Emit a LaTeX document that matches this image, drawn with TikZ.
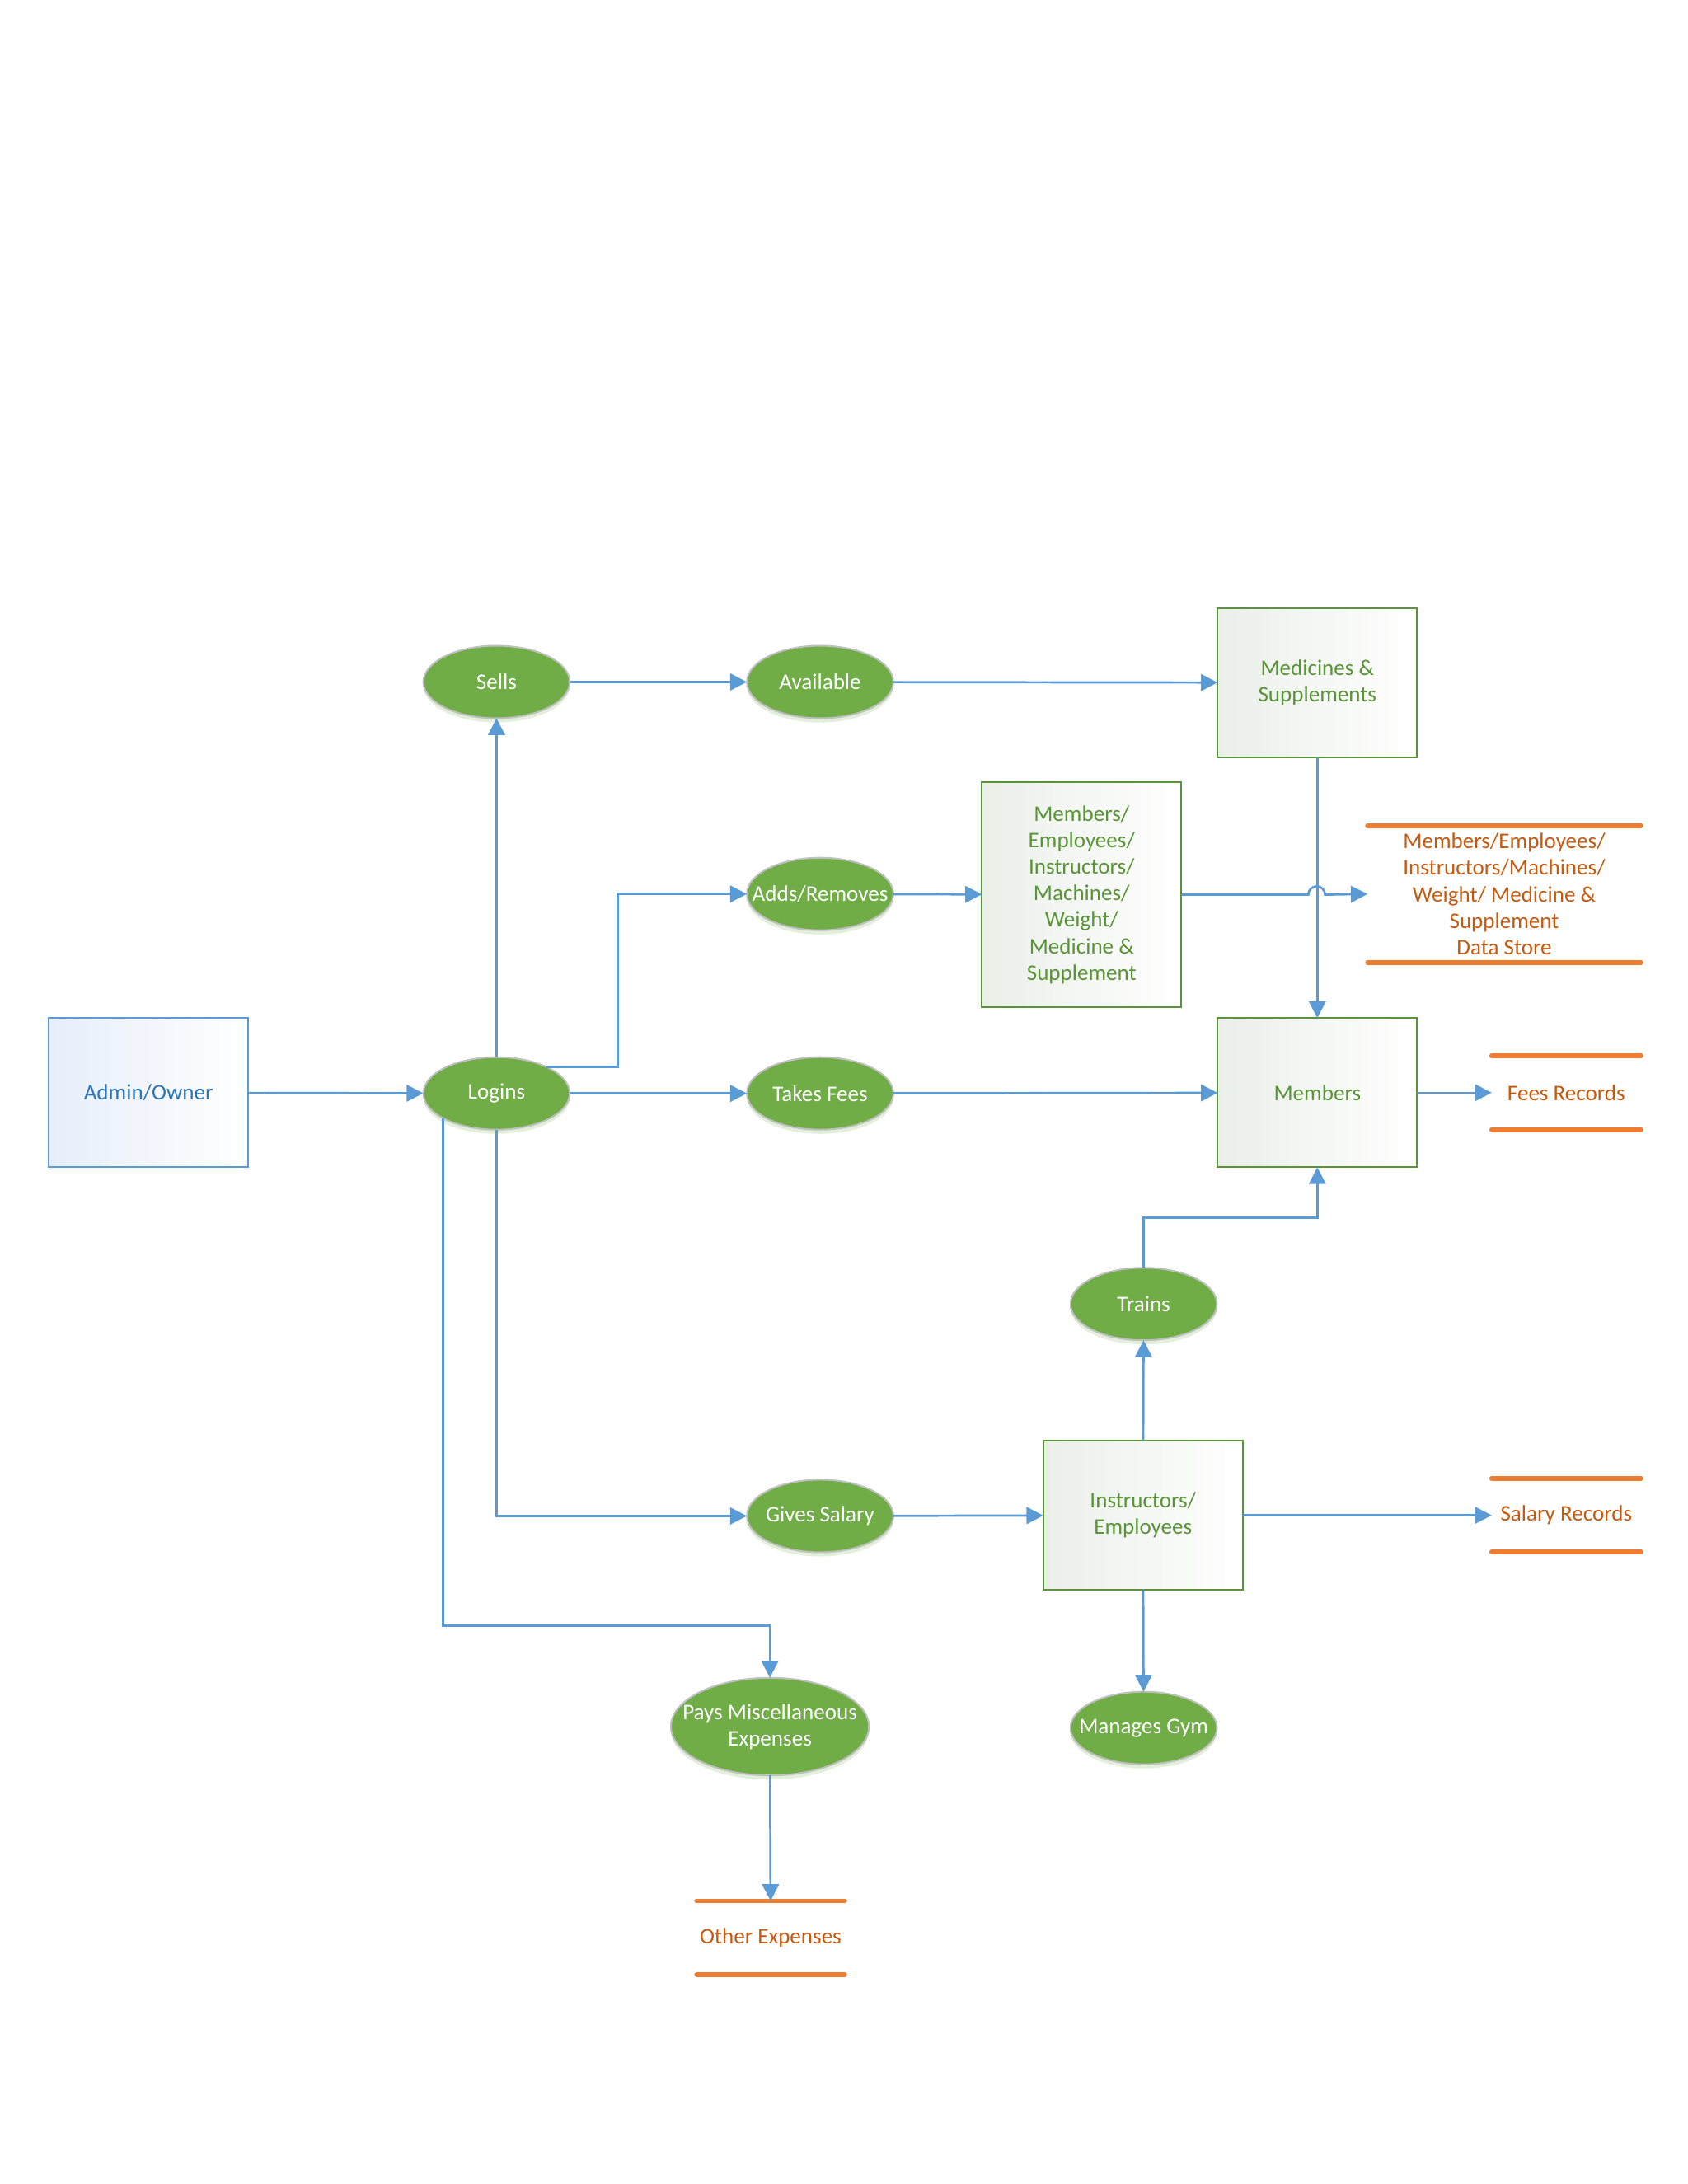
\documentclass[tikz,border=0pt]{standalone}
\usepackage{fontspec}
\setmainfont{Carlito}
\usetikzlibrary{arrows.meta,shapes.geometric,shadows}
\definecolor{c5b9bd5}{RGB}{91,155,213}
\definecolor{c70ad47}{RGB}{112,173,71}
\definecolor{c5a9438}{RGB}{90,148,56}
\definecolor{ced7d31}{RGB}{237,125,49}
\definecolor{cc55a11}{RGB}{197,90,17}
\definecolor{c2e75b6}{RGB}{46,117,182}
\definecolor{cbfbfbf}{RGB}{191,191,191}
\definecolor{ceaefe8}{RGB}{234,239,232}
\definecolor{ce6eefa}{RGB}{230,238,250}

\begin{document}
\begin{tikzpicture}[y=1pt, x=1pt, yscale=-1, inner sep=0pt, outer sep=0pt,
  every node/.style={font=\fontsize{16}{19}\selectfont, align=center},
  proc/.style={ellipse, draw=cbfbfbf, line width=1.2pt, fill=c70ad47,
    minimum width=105pt, minimum height=52pt,
    drop shadow={shadow xshift=0pt, shadow yshift=-3pt, opacity=0.2, fill=c70ad47},
    label={[text=white]center:#1}},
  ent/.style={rectangle, draw=c5a9438, line width=1.3pt, text=c5a9438,
    left color=ceaefe8, right color=white, minimum width=143pt, minimum height=107pt},
  store/.style={rectangle, text=cc55a11, minimum height=53pt},
  storeline/.style={draw=ced7d31, line width=3.5pt, line cap=round},
  flow/.style={draw=c5b9bd5, line width=1.6pt, -{Triangle[length=12pt,width=12pt]}}]

  % page
  \useasboundingbox (0,0) rectangle (1210,1566);

  % external entity
  \path (106.5,783.5) node[ent, draw=c5b9bd5, text=c2e75b6, left color=ce6eefa] (admin) {Admin/Owner};

  % processes
  \path (356.0,784.0) node[proc=Logins] (logins) {};
  \path (356.0,489.0) node[proc=Sells] (sells) {};
  \path (588.0,489.0) node[proc=Available] (avail) {};
  \path (588.0,641.0) node[proc=Adds/Removes] (addrem) {};
  \path (588.0,784.0) node[proc=Takes Fees] (fees) {};
  \path (588.0,1087.0) node[proc=Gives Salary] (salary) {};
  \path (552.0,1238.0) node[proc={Pays Miscellaneous\\Expenses}, minimum width=142pt, minimum height=70pt] (misc) {};
  \path (820.0,935.0) node[proc=Trains] (trains) {};
  \path (820.0,1239.0) node[proc=Manages Gym] (gym) {};

  % entities
  \path (944.5,489.5) node[ent] (meds) {Medicines \&\\Supplements};
  \path (775.5,641.5) node[ent, minimum height=161pt] (mbox) {Members/\\Employees/\\Instructors/\\Machines/\\Weight/\\Medicine \&\\Supplement};
  \path (944.5,783.5) node[ent] (members) {Members};
  \path (819.5,1086.5) node[ent] (instr) {Instructors/\\Employees};

  % data stores
  \path (1078.5,641.0) node[store, minimum width=196pt, minimum height=98pt] (dstore) {Members/Employees/\\Instructors/Machines/\\Weight/ Medicine \&\\Supplement\\Data Store};
  \path (1123.0,783.5) node[store, minimum width=107pt] (feesrec) {Fees Records};
  \path (1123.0,1086.5) node[store, minimum width=107pt] (salrec) {Salary Records};
  \path (552.5,1389.5) node[store, minimum width=106pt] (other) {Other Expenses};
  \foreach \s in {dstore,feesrec,salrec,other}{
    \path[storeline] (\s.north west) -- (\s.north east);
    \path[storeline] (\s.south west) -- (\s.south east);
  }

  % flows
  \path[flow] (admin) -- (logins);
  \path[flow] (logins) -- (sells);
  \path[flow] (sells) -- (avail);
  \path[flow] (avail) -- (meds);
  \path[flow] (logins.28) -- ++(51,0) |- (addrem.west);
  \path[flow] (addrem) -- (mbox);
  \path[flow] (mbox.east) -- ++(91,0) arc(180:360:6) -- (dstore.west);
  \path[flow] (meds) -- (members);
  \path[flow] (logins) -- (fees);
  \path[flow] (fees) -- (members);
  \path[flow] (members) -- (feesrec);
  \path[flow] (logins.south) |- (salary.west);
  \path[flow] (logins.205) -- ++(0,364) -| (misc.north);
  \path[flow] (salary) -- (instr);
  \path[flow] (instr) -- (trains);
  \path[flow] (trains.north) -- ++(0,-36) -| (members.south);
  \path[flow] (instr) -- (gym);
  \path[flow] (instr) -- (salrec);
  \path[flow] (misc) -- (other.north);
\end{tikzpicture}
\end{document}
